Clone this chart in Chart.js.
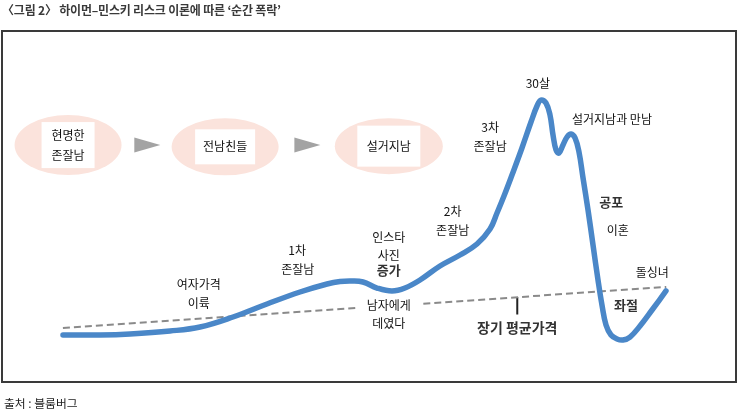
<!DOCTYPE html>
<html><head><meta charset="utf-8">
<script src="https://cdn.jsdelivr.net/npm/chart.js@4.4.1/dist/chart.umd.min.js"></script>
<style>
html,body{margin:0;padding:0;background:#fff;width:743px;height:413px;overflow:hidden;font-family:"Noto Sans CJK KR","Noto Sans",sans-serif;}
#title{position:absolute;left:2px;top:1px;font-size:12px;font-weight:bold;color:#3a3a3a;letter-spacing:-0.2px;white-space:nowrap;}
#source{position:absolute;left:4px;top:394px;font-size:11.8px;color:#222;white-space:nowrap;}
#wrap{position:absolute;left:0;top:0;width:743px;height:413px;}
</style></head><body>
<div id="wrap"><canvas id="c" width="743" height="413"></canvas></div>
<div id="title">〈그림 2〉 하이먼–민스키 리스크 이론에 따른 ‘순간 폭락’</div>
<div id="source">출처 : 블룸버그</div>
<script>
// conceptual time axis (0-100) and price level (0-100)
const timeline = [8.31,13.35,17.44,22.89,26.98,31.47,36.10,40.60,44.28,46.05,47.68,49.18,51.09,53.13,54.90,56.95,59.67,62.40,64.71,66.49,67.44,68.39,69.48,70.84,72.07,72.89,73.43,74.11,74.66,75.07,75.48,75.89,76.43,76.98,77.52,78.07,78.61,79.16,79.84,80.52,81.20,81.74,82.29,82.97,83.79,84.60,85.56,86.92,88.56,90.46];
const price    = [13.39,13.39,13.68,14.53,15.67,18.52,22.22,25.64,27.92,28.63,28.77,28.49,26.78,25.93,26.78,29.06,33.05,36.18,39.32,43.59,48.15,52.99,58.97,66.67,74.07,78.63,80.34,79.49,76.07,70.37,66.10,65.24,67.52,69.80,70.66,69.52,65.53,58.12,49.00,39.03,29.06,21.94,16.24,13.39,12.25,11.97,12.82,15.95,20.51,25.93];
// long-term average price trend (two segments, broken around the label)
const trendTime1 = [8.3, 48.4];
const trendPrice1 = [15.4, 21.1];
const trendTime2 = [57.4, 90.5];
const trendPrice2 = [22.3, 27.1];
// tick from trend line to the "장기 평균가격" label
const tickTime = [70.2, 70.2];
const tickPrice = [24.2, 19.2];

const stages = [
  {lines:['현명한','존잘남'], t:9.0, v:67.5, w:107, h:60, rw:53, rh:46},
  {lines:['전남친들'], t:30.4, v:67.0, w:107, h:57, rw:60, rh:35},
  {lines:['설거지남'], t:52.7, v:67.2, w:108, h:56, rw:63, rh:41}
];
const arrows = [{t:19.8, v:67.5},{t:41.6, v:67.5}];
const labels = [
  {text:'여자가격', t:26.8, v:27.9},
  {text:'이륙', t:26.8, v:22.5},
  {text:'1차', t:40.2, v:37.6},
  {text:'존잘남', t:40.3, v:32.2},
  {text:'인스타', t:52.7, v:41.3},
  {text:'사진', t:52.7, v:36.2},
  {text:'증가', t:52.7, v:31.9, bold:true},
  {text:'남자에게', t:52.7, v:21.9},
  {text:'데였다', t:52.7, v:16.8},
  {text:'2차', t:61.4, v:48.7},
  {text:'존잘남', t:61.4, v:43.3},
  {text:'3차', t:66.5, v:72.4},
  {text:'존잘남', t:66.5, v:67.0},
  {text:'30살', t:73.0, v:85.2},
  {text:'설거지남과 만남', t:83.1, v:74.9},
  {text:'공포', t:83.0, v:51.3, bold:true},
  {text:'이혼', t:83.9, v:43.3},
  {text:'돌싱녀', t:88.6, v:31.3},
  {text:'좌절', t:85.0, v:21.9, bold:true},
  {text:'장기 평균가격', t:70.2, v:15.4, bold:true, size:14}
];

const zip = (a,b) => a.map((x,i)=>({x:x, y:b[i]}));
const FONT = '"Noto Sans CJK KR","Noto Sans",sans-serif';

const decor = {
  id:'decor',
  beforeDatasetsDraw(chart){
    const ctx = chart.ctx, X = chart.scales.x, Y = chart.scales.y;
    ctx.save();
    stages.forEach(s=>{
      const cx = X.getPixelForValue(s.t), cy = Y.getPixelForValue(s.v);
      ctx.fillStyle = '#fbe3dc';
      ctx.beginPath(); ctx.ellipse(cx, cy, s.w/2, s.h/2, 0, 0, Math.PI*2); ctx.fill();
      ctx.fillStyle = '#ffffff';
      ctx.fillRect(cx - s.rw/2, cy - s.rh/2, s.rw, s.rh);
      ctx.fillStyle = '#111';
      ctx.font = '12px ' + FONT;
      ctx.textAlign = 'center'; ctx.textBaseline = 'middle';
      const n = s.lines.length;
      s.lines.forEach((l,i)=>{ ctx.fillText(l, cx, cy + (i - (n-1)/2)*20); });
    });
    arrows.forEach(a=>{
      const cx = X.getPixelForValue(a.t), cy = Y.getPixelForValue(a.v);
      ctx.fillStyle = '#a3a3a3';
      ctx.beginPath();
      ctx.moveTo(cx-13, cy-7.5); ctx.lineTo(cx+13, cy); ctx.lineTo(cx-13, cy+7.5); ctx.closePath(); ctx.fill();
    });
    ctx.restore();
  },
  afterDatasetsDraw(chart){
    const ctx = chart.ctx, X = chart.scales.x, Y = chart.scales.y;
    ctx.save();
    ctx.textAlign = 'center'; ctx.textBaseline = 'middle';
    labels.forEach(l=>{
      ctx.font = (l.bold ? 'bold ' : '') + (l.size || (l.bold ? 13 : 12)) + 'px ' + FONT;
      ctx.fillStyle = l.bold ? '#333' : '#111';
      ctx.fillText(l.text, X.getPixelForValue(l.t), Y.getPixelForValue(l.v));
    });
    // frame
    const a = chart.chartArea;
    ctx.strokeStyle = '#3a3a3a'; ctx.lineWidth = 2;
    ctx.strokeRect(a.left, a.top, a.right - a.left, a.bottom - a.top);
    ctx.restore();
  }
};

new Chart(document.getElementById('c'), {
  type:'line',
  data:{datasets:[
    {data: zip(timeline, price), borderColor:'#4a87c8', borderWidth:5.5, pointRadius:0, tension:0.4, borderCapStyle:'round', borderJoinStyle:'round', fill:false, order:1},
    {data: zip(trendTime1, trendPrice1), borderColor:'#8a8a8a', borderWidth:2, borderDash:[7,4], pointRadius:0, fill:false, order:2},
    {data: zip(trendTime2, trendPrice2), borderColor:'#8a8a8a', borderWidth:2, borderDash:[7,4], pointRadius:0, fill:false, order:2},
    {data: zip(tickTime, tickPrice), borderColor:'#222', borderWidth:2, pointRadius:0, fill:false, order:2}
  ]},
  options:{
    responsive:false, animation:false, devicePixelRatio:1,
    layout:{padding:{left:2, top:31, right:7, bottom:31}},
    plugins:{legend:{display:false}, tooltip:{enabled:false}, title:{display:false}},
    scales:{
      x:{type:'linear', min:0, max:100, display:false},
      y:{type:'linear', min:0, max:100, display:false}
    }
  },
  plugins:[decor]
});
</script>
</body></html>
